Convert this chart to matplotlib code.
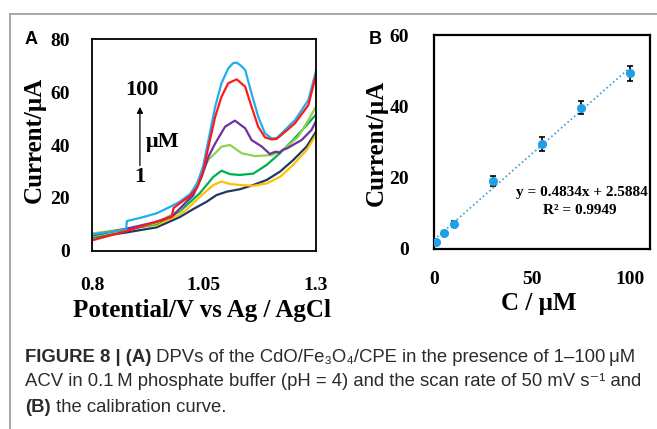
import matplotlib
matplotlib.use("Agg")
import matplotlib.pyplot as plt
from matplotlib.lines import Line2D

# DPV curves (panel A), potential in V and current in uA
v_1 = [0.80, 0.877, 0.944, 0.996, 1.026, 1.056, 1.078, 1.101, 1.130, 1.160, 1.190, 1.220, 1.249, 1.279, 1.30]
i_1 = [5.0, 7.0, 8.9, 12.8, 15.8, 18.6, 21.1, 22.4, 23.3, 24.9, 26.8, 30.0, 34.3, 39.4, 45.0]

v_5 = [0.80, 0.877, 0.944, 0.996, 1.011, 1.041, 1.071, 1.089, 1.108, 1.130, 1.160, 1.190, 1.220, 1.249, 1.279, 1.30]
i_5 = [6.6, 8.4, 9.8, 13.8, 15.6, 20.5, 24.9, 26.2, 25.3, 24.9, 24.6, 25.5, 28.0, 32.5, 38.1, 43.8]

v_10 = [0.80, 0.877, 0.944, 0.996, 1.011, 1.041, 1.071, 1.089, 1.108, 1.130, 1.160, 1.190, 1.220, 1.249, 1.279, 1.30]
i_10 = [5.0, 7.9, 10.2, 15.0, 17.2, 21.9, 28.0, 30.3, 29.0, 28.7, 29.2, 32.5, 37.0, 41.9, 47.5, 51.5]

v_30 = [0.80, 0.877, 0.944, 0.996, 1.019, 1.041, 1.060, 1.075, 1.089, 1.108, 1.134, 1.164, 1.201, 1.227,
        1.260, 1.283, 1.30]
i_30 = [5.6, 8.1, 10.5, 15.5, 20.5, 28.0, 34.5, 36.9, 39.4, 40.0, 36.9, 35.8, 36.2, 38.1,
        43.1, 49.4, 54.5]

v_55 = [0.80, 0.877, 0.944, 0.981, 0.996, 1.026, 1.045, 1.060, 1.075, 1.097, 1.119, 1.142, 1.156, 1.179,
        1.197, 1.205, 1.212, 1.218, 1.226, 1.235, 1.268, 1.290, 1.30]
i_55 = [5.9, 8.4, 11.0, 13.3, 16.0, 21.0, 28.0, 35.6, 40.6, 46.9, 49.2, 46.3, 41.9, 39.4,
        36.6, 37.2, 37.5, 37.0, 38.2, 38.7, 41.9, 45.7, 49.0]

v_75 = [0.80, 0.877, 0.944, 0.978, 0.982, 0.996, 1.019, 1.035, 1.048, 1.060, 1.075, 1.089, 1.104, 1.123,
        1.142, 1.156, 1.171, 1.186, 1.201, 1.212, 1.223, 1.253, 1.283, 1.30]
i_75 = [4.0, 7.5, 11.1, 12.8, 16.2, 18.0, 20.8, 24.0, 30.0, 39.4, 50.7, 58.2, 63.3, 64.8,
        62.0, 54.5, 46.9, 42.9, 42.1, 42.3, 43.8, 48.2, 55.1, 66.5]

v_100 = [0.80, 0.85, 0.876, 0.878, 0.91, 0.944, 0.97, 0.985, 0.996, 1.019, 1.035, 1.048, 1.060, 1.075,
         1.089, 1.104, 1.115, 1.123, 1.132, 1.142, 1.156, 1.171, 1.186, 1.201, 1.212, 1.223, 1.253,
         1.283, 1.30]
i_100 = [6.3, 7.5, 8.2, 11.3, 12.6, 14.2, 16.3, 17.6, 18.6, 21.5, 25.5, 32.0, 41.9, 54.5,
         63.3, 68.9, 70.9, 71.1, 70.0, 68.3, 59.5, 50.7, 44.4, 42.5, 42.6, 44.4, 49.4,
         57.0, 68.0]

# calibration (panel B)
conc = [1, 5, 10, 30, 55, 75, 100]
peak_current = [2.0, 4.5, 7.0, 19.1, 29.4, 39.6, 49.3]
peak_err = [0.6, 0.5, 0.8, 1.4, 2.0, 1.8, 2.1]
slope, intercept = 0.4834, 2.5884
fit_x = [0, 101]

a_xticks = [0.8, 1.05, 1.3]
a_xticklabels = ["0.8", "1.05", "1.3"]
a_yticks = [0, 20, 40, 60, 80]
b_xticks = [0, 50, 100]
b_yticks = [0, 20, 40, 60]

serif = "Liberation Serif"
plt.rcParams["font.family"] = serif
plt.rcParams["font.weight"] = "bold"

fig = plt.figure(figsize=(6.57, 4.29), dpi=100)

# panel A
ax1 = fig.add_axes([0.140, 0.415, 0.341, 0.494])
curves = [(v_1, i_1, "#1F3864"), (v_5, i_5, "#FFC000"), (v_10, i_10, "#00B050"),
          (v_30, i_30, "#92D050"), (v_55, i_55, "#7030A0"), (v_100, i_100, "#1EB0EE"),
          (v_75, i_75, "#FF1A1A")]
for v, i, c in curves:
    ax1.plot(v, i, color=c, lw=1.6, solid_joinstyle="round")
ax1.set_xlim(0.8, 1.3)
ax1.set_ylim(0, 80)
ax1.set_xticks(a_xticks)
ax1.set_xticklabels(a_xticklabels)
ax1.set_yticks(a_yticks)
ax1.tick_params(length=0, labelsize=14)
ax1.tick_params(axis="x", pad=19)
ax1.tick_params(axis="y", pad=16)
for s in ax1.spines.values():
    s.set_linewidth(1.3)
ax1.set_xlabel("Potential/V vs Ag / AgCl", fontsize=18, fontweight="bold")
ax1.xaxis.set_label_coords(0.493, -0.225)
ax1.set_ylabel("Current/\u03bcA", fontsize=18, fontweight="bold")
ax1.yaxis.set_label_coords(-0.205, 0.524)

ax1.text(0.222, 0.759, "100", transform=ax1.transAxes, fontsize=16, ha="center", va="center")
ax1.text(0.317, 0.516, "\u03bcM", transform=ax1.transAxes, fontsize=16, ha="center", va="center")
ax1.text(0.214, 0.350, "1", transform=ax1.transAxes, fontsize=16, ha="center", va="center")
ax1.annotate("", xy=(0.214, 0.693), xytext=(0.214, 0.39), xycoords="axes fraction",
             arrowprops=dict(arrowstyle="-|>", color="black", lw=0.9, mutation_scale=9))

# panel B
ax2 = fig.add_axes([0.6606, 0.4196, 0.3287, 0.4988])
ax2.plot(fit_x, [slope * x + intercept for x in fit_x], color="#3A9AD9", lw=1.2, ls=(0, (1, 1.6)))
ax2.errorbar(conc, peak_current, yerr=peak_err, fmt="none", ecolor="black", elinewidth=1.2,
             capsize=2.5, capthick=1.2)
ax2.plot(conc, peak_current, "o", color="#1EA0E6", ms=5.5, zorder=3)
ax2.set_xlim(0, 110)
ax2.set_ylim(0, 60)
ax2.set_xticks(b_xticks)
ax2.set_yticks(b_yticks)
ax2.tick_params(length=0, labelsize=14)
ax2.tick_params(axis="x", pad=16)
ax2.tick_params(axis="y", pad=18)
for s in ax2.spines.values():
    s.set_linewidth(1.6)
ax2.set_xlabel("C / \u03bcM", fontsize=18, fontweight="bold")
ax2.xaxis.set_label_coords(0.486, -0.2)
ax2.set_ylabel("Current/\u03bcA", fontsize=18, fontweight="bold")
ax2.yaxis.set_label_coords(-0.215, 0.495)
ax2.text(0.685, 0.262, "y = 0.4834x + 2.5884", transform=ax2.transAxes, fontsize=11,
         ha="center", va="center")
ax2.text(0.675, 0.182, "R\u00b2 = 0.9949", transform=ax2.transAxes, fontsize=11,
         ha="center", va="center")

# panel letters
fig.text(31 / 657, 1 - 39 / 429, "A", family="Liberation Sans", fontsize=13, weight="bold",
         ha="center", va="center")
fig.text(375 / 657, 1 - 40 / 429, "B", family="Liberation Sans", fontsize=13, weight="bold",
         ha="center", va="center")

# grey frame (top and left edges)
fig.add_artist(Line2D([10 / 657, 10 / 657], [0, 1 - 14 / 429], transform=fig.transFigure,
                      color="#9a9a9a", lw=1.2))
fig.add_artist(Line2D([10 / 657, 1], [1 - 14 / 429, 1 - 14 / 429], transform=fig.transFigure,
                      color="#9a9a9a", lw=1.2))

# caption with mixed bold / regular runs
cap_font = ["Liberation Sans", "DejaVu Sans"]
cap_size = 13.35
renderer = fig.canvas.get_renderer()


def caption_line(y_px, parts):
    x = 25 / 657
    for txt, w in parts:
        t = fig.text(x, 1 - y_px / 429, txt, family=cap_font, fontsize=cap_size, weight=w,
                     color="#2b2b2b", va="center", ha="left")
        bb = t.get_window_extent(renderer)
        x = bb.x1 / fig.bbox.width


caption_line(357, [("FIGURE 8 | (A)", "bold"),
                   (" DPVs of the CdO/Fe\u2083O\u2084/CPE in the presence of 1\u2013100\u2009\u03bcM", "normal")])
caption_line(382, [("ACV in 0.1\u2009M phosphate buffer (pH = 4) and the scan rate of 50 mV s\u207b\u00b9 and",
                    "normal")])
caption_line(407, [("(B)", "bold"), (" the calibration curve.", "normal")])

fig.savefig("out.png", dpi=100)
